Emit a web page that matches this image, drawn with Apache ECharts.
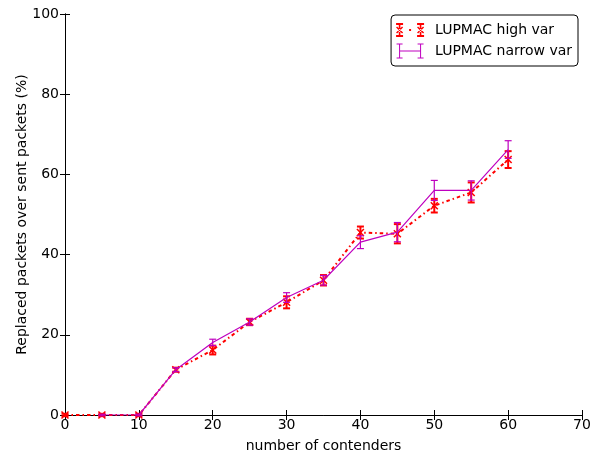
<!DOCTYPE html>
<html><head><meta charset="utf-8">
<script src="https://cdn.jsdelivr.net/npm/echarts@6/dist/echarts.min.js"></script>
<style>html,body{margin:0;padding:0;background:#fff}#c{width:597px;height:452px}</style>
</head><body><div id="c"></div>
<script>
const xTicks = [0,10,20,30,40,50,60,70];
const yTicks = [0,20,40,60,80,100];
const highX = [0,5,10,15,20,25,30,35,40,45,50,55,60];
const highVar = [0,0,0,11.3,16.2,23.2,28.1,33.6,45.5,45.2,52.2,55.5,63.7];
const highErr = [0.3,0.3,0.3,0.5,1.1,0.8,1.5,1.3,1.5,2.4,1.7,2.5,2.1];
const narrowX = [5,10,15,20,25,30,35,40,45,50,55,60];
const narrowVar = [0,0,11.3,18.1,23.2,29.3,33.6,43.1,45.6,56,56,66.2];
const narrowErr = [0.2,0.2,0.5,0.8,0.8,1.2,1.2,1.6,2.4,2.5,2.4,2.2];

const RED = '#ff0000', MAG = '#bf00bf';
const FONT = 'DejaVu Sans';
const FS = 14;

function errRender(color, lw, capHalf, marker) {
  return function (params, api) {
    const x = api.value(0), y = api.value(1), e = api.value(2);
    const p = api.coord([x, y]);
    const t = api.coord([x, y + e]);
    const b = api.coord([x, y - e]);
    const ch = [
      {type:'line', shape:{x1:p[0], y1:t[1], x2:p[0], y2:b[1]}, style:{stroke:color, lineWidth:lw}},
      {type:'line', shape:{x1:p[0]-capHalf, y1:t[1], x2:p[0]+capHalf, y2:t[1]}, style:{stroke:color, lineWidth:lw}},
      {type:'line', shape:{x1:p[0]-capHalf, y1:b[1], x2:p[0]+capHalf, y2:b[1]}, style:{stroke:color, lineWidth:lw}}
    ];
    if (marker) {
      const m = 3.5;
      ch.push({type:'line', shape:{x1:p[0]-m, y1:p[1]-m, x2:p[0]+m, y2:p[1]+m}, style:{stroke:color, lineWidth:1.5}});
      ch.push({type:'line', shape:{x1:p[0]-m, y1:p[1]+m, x2:p[0]+m, y2:p[1]-m}, style:{stroke:color, lineWidth:1.5}});
    }
    return {type:'group', children: ch};
  };
}

const BBOX = ' M0,0h0.01v0.01h-0.01Z M33.99,15.99h0.01v0.01h-0.01Z';
function redBar(cx) {
  const l = cx - 3.5;
  return `M${cx-0.8},1h1.6v14h-1.6Z M${l},1h7v2h-7Z M${l},13h7v2h-7Z ` +
    `M${l},5.5l1,-1l6,6l-1,1Z M${l+7},5.5l-1,-1l-6,6l1,1Z `;
}
function magBar(cx) {
  const l = cx - 3;
  return `M${cx-0.5},0.5h1v15h-1Z M${l},0.5h6v1h-6Z M${l},14.5h6v1h-6Z `;
}
const redIcon = 'path://' + redBar(3.5) + redBar(24.5) + 'M13,7h2v2h-2Z' + BBOX;
const magIcon = 'path://' + magBar(3.5) + magBar(24.5) + 'M3.5,7.5h21v1h-21Z' + BBOX;

const chart = echarts.init(document.getElementById('c'), null, {renderer:'canvas'});
const axisCommon = {
  min: 0,
  axisLine: {show:true, lineStyle:{color:'#000', width:1}},
  axisTick: {show:true, inside:true, length:5, lineStyle:{color:'#000'}},
  splitLine: {show:false},
  axisLabel: {color:'#000', fontSize:FS, fontFamily:FONT}
};
chart.setOption({
  animation: false,
  backgroundColor: '#fff',
  textStyle: {fontFamily: FONT},
  grid: {left:65, right:15, top:14, bottom:37, outerBoundsMode:'none', containLabel:false},
  legend: {
    right: 19, top: 15,
    orient: 'vertical',
    backgroundColor: '#fff',
    borderColor: '#000', borderWidth: 1, borderRadius: 4,
    padding: [7, 6, 7, 5],
    itemGap: 5,
    itemWidth: 34, itemHeight: 16,
    textStyle: {fontSize: FS, color:'#000', fontFamily: FONT},
    data: [
      {name:'LUPMAC high var', icon: redIcon, itemStyle:{color:RED}},
      {name:'LUPMAC narrow var', icon: magIcon, itemStyle:{color:MAG}}
    ]
  },
  xAxis: [
    Object.assign({}, axisCommon, {type:'value', max: xTicks[xTicks.length-1], interval: 10,
      name: 'number of contenders', nameLocation:'middle', nameGap: 24, nameMoveOverlap: false,
      nameTextStyle:{fontSize:FS, color:'#000', fontFamily:FONT},
      axisLabel: {color:'#000', fontSize:FS, fontFamily:FONT, margin:3}}),
    Object.assign({}, axisCommon, {type:'value', position:'top', max: 70, interval: 10, axisLabel:{show:false}})
  ],
  yAxis: [
    Object.assign({}, axisCommon, {type:'value', max: yTicks[yTicks.length-1], interval: 20,
      name: 'Replaced packets over sent packets (%)', nameLocation:'middle', nameGap: 36, nameMoveOverlap: false,
      nameTextStyle:{fontSize:FS, color:'#000', fontFamily:FONT},
      axisLabel: {color:'#000', fontSize:FS, fontFamily:FONT, margin:6}}),
    Object.assign({}, axisCommon, {type:'value', position:'right', max: 100, interval: 20, axisLabel:{show:false}})
  ],
  series: [
    {
      name: 'LUPMAC narrow var', type: 'line', symbol: 'none', z: 3,
      data: narrowX.map((x,i)=>[x, narrowVar[i]]),
      lineStyle: {color: MAG, width: 1.2}, itemStyle:{color:MAG}
    },
    {
      name: 'LUPMAC high var', type: 'line', symbol: 'none', z: 2,
      data: highX.map((x,i)=>[x, highVar[i]]),
      lineStyle: {color: RED, width: 2, type: [3.5, 3, 1.5, 3]}, itemStyle:{color:RED}
    },
    {
      name: 'LUPMAC high var', type: 'custom', z: 2,
      renderItem: errRender(RED, 2, 3.5, true),
      data: highX.map((x,i)=>[x, highVar[i], highErr[i]]),
      itemStyle:{color:RED}
    },
    {
      name: 'LUPMAC narrow var', type: 'custom', z: 4,
      renderItem: errRender(MAG, 1.2, 3.5, false),
      data: narrowX.map((x,i)=>[x, narrowVar[i], narrowErr[i]]),
      itemStyle:{color:MAG}
    }
  ]
});
</script></body></html>
